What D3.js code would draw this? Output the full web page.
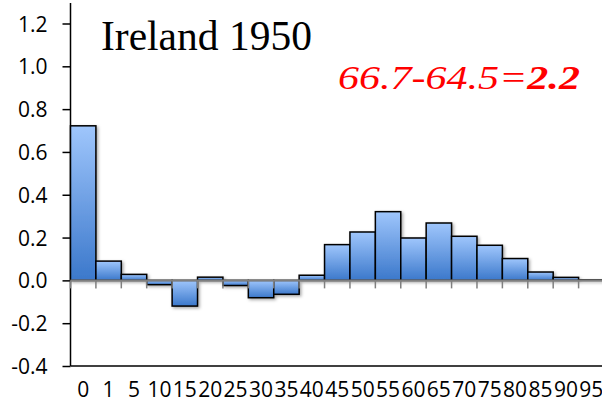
<!DOCTYPE html>
<html>
<head>
<meta charset="utf-8">
<script src="https://cdn.jsdelivr.net/npm/d3@7"></script>
<style>
  body { margin: 0; background: #fff; }
  svg { display: block; }
</style>
</head>
<body>
<svg id="chart" width="602" height="404"></svg>
<script>
// age groups and change in life expectancy contribution
const ageGroups = ['0', '1', '5', '10', '15', '20', '25', '30', '35', '40', '45',
  '50', '55', '60', '65', '70', '75', '80', '85', '90', '95'];
const contrib = [0.722, 0.09, 0.028, -0.02, -0.12, 0.015, -0.024, -0.081, -0.065, 0.024, 0.167,
  0.226, 0.321, 0.198, 0.268, 0.206, 0.164, 0.102, 0.039, 0.014, 0.002];
const yTicks = [-0.4, -0.2, 0.0, 0.2, 0.4, 0.6, 0.8, 1.0, 1.2];
const titleText = 'Ireland 1950';
const eqParts = ['66.7-64.5=', '2.2'];

const svg = d3.select('#chart');

const x = d3.scaleBand().domain(ageGroups).range([70.5, 604]).padding(0);
const y = d3.scaleLinear().domain([-0.4, 1.2]).range([366, 23.5]);

const labelFont = '"Open Sans", "Noto Sans", sans-serif';

// defs: gradient + shadow
const defs = svg.append('defs');
const grad = defs.append('linearGradient')
  .attr('id', 'barGrad')
  .attr('x1', 0).attr('y1', 0).attr('x2', 0).attr('y2', 1);
grad.append('stop').attr('offset', '0%').attr('stop-color', '#9fc6fc');
grad.append('stop').attr('offset', '100%').attr('stop-color', '#3b78cb');

const shadow = defs.append('filter')
  .attr('id', 'shadow')
  .attr('x', '-20%').attr('y', '-20%').attr('width', '150%').attr('height', '150%');
shadow.append('feDropShadow')
  .attr('dx', 1.5).attr('dy', 1.5)
  .attr('stdDeviation', 1.5)
  .attr('flood-color', '#000')
  .attr('flood-opacity', 0.35);

// y axis
const yAxis = d3.axisLeft(y)
  .tickValues(yTicks)
  .tickSize(8)
  .tickSizeOuter(0)
  .tickPadding(15);

const gy = svg.append('g')
  .attr('transform', 'translate(70.5,0)')
  .call(yAxis);
gy.select('.domain').remove();
gy.selectAll('.tick line').attr('stroke', '#000').attr('stroke-width', 1.5);
gy.selectAll('.tick text')
  .attr('fill', '#000')
  .attr('dy', '0.36em')
  .style('font-family', labelFont)
  .style('font-size', '21px')
  .text(d => d.toFixed(1));

// left axis line
svg.append('line')
  .attr('x1', 70.5).attr('x2', 70.5)
  .attr('y1', 3).attr('y2', y(-0.4))
  .attr('stroke', '#000').attr('stroke-width', 1.5);

// bottom line at -0.4
svg.append('line')
  .attr('x1', 70.5).attr('x2', 602)
  .attr('y1', y(-0.4)).attr('y2', y(-0.4))
  .attr('stroke', '#000').attr('stroke-width', 1.5);

// bars
svg.append('g')
  .attr('filter', 'url(#shadow)')
  .selectAll('rect')
  .data(contrib)
  .enter().append('rect')
  .attr('x', (d, i) => x(ageGroups[i]))
  .attr('width', x.bandwidth())
  .attr('y', d => y(Math.max(0, d)))
  .attr('height', d => Math.abs(y(d) - y(0)))
  .attr('fill', 'url(#barGrad)')
  .attr('stroke', '#000')
  .attr('stroke-width', 1.5);

// zero line with category ticks
const gx = svg.append('g')
  .attr('transform', 'translate(0,' + y(0) + ')');
gx.append('line')
  .attr('x1', 70.5).attr('x2', 602)
  .attr('stroke', '#7f7f7f').attr('stroke-width', 2);
gx.selectAll('line.tk')
  .data(ageGroups)
  .enter().append('line')
  .attr('class', 'tk')
  .attr('x1', d => x(d)).attr('x2', d => x(d))
  .attr('y1', 0).attr('y2', 8)
  .attr('stroke', '#7f7f7f').attr('stroke-width', 1.5);

// category labels
svg.append('g').selectAll('text')
  .data(ageGroups)
  .enter().append('text')
  .attr('x', d => x(d) + x.bandwidth() / 2)
  .attr('y', 397)
  .attr('text-anchor', 'middle')
  .style('font-family', labelFont)
  .style('font-size', '21px')
  .attr('fill', '#000')
  .text(d => d);

// title
svg.append('text')
  .attr('x', 101).attr('y', 49.5)
  .style('font-family', '"Liberation Serif", "Times New Roman", serif')
  .style('font-size', '41.5px')
  .attr('fill', '#000')
  .text(titleText);

// equation (stretched horizontally)
const eq = svg.append('text')
  .attr('x', 0).attr('y', 0)
  .style('font-family', '"Liberation Serif", "Times New Roman", serif')
  .style('font-size', '33px')
  .style('font-style', 'italic')
  .attr('fill', '#ff0000');
eq.append('tspan').text(eqParts[0]);
eq.append('tspan').style('font-weight', 'bold').text(eqParts[1]);
const w = eq.node().getBBox().width;
eq.attr('transform', 'translate(338,89.3) scale(' + (242 / w) + ',1)');
</script>
</body>
</html>
